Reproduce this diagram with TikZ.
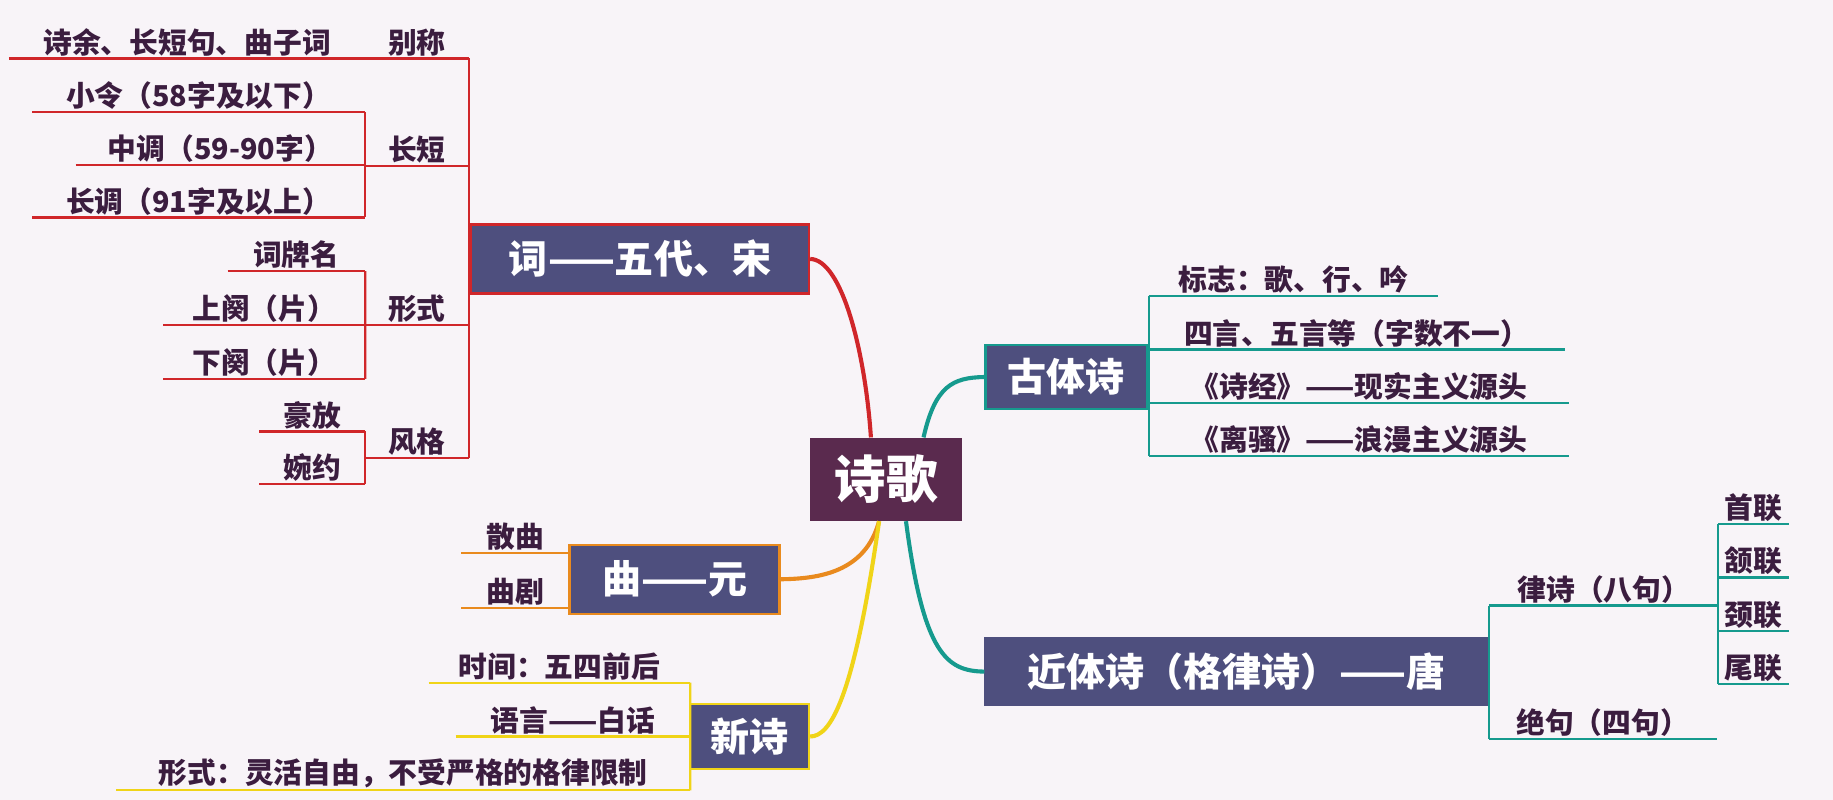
\documentclass[tikz,border=0pt]{standalone}
\usepackage{fontspec}
\setmainfont{Noto Sans CJK SC}
\usetikzlibrary{calc}
\definecolor{bgcol}{HTML}{F8F4F8}
\definecolor{txtcol}{HTML}{3B1D3F}
\definecolor{boxcol}{HTML}{4E4F7E}
\definecolor{rootcol}{HTML}{5A2A4E}
\definecolor{redcol}{HTML}{D0262A}
\definecolor{orgcol}{HTML}{E98A1E}
\definecolor{yelcol}{HTML}{F0D418}
\definecolor{tealcol}{HTML}{169A8E}
\newcommand\leaf[6]{%
  \node[leafnode,minimum width={(#3-#2)*0.02cm}] (#1) at ({(#2+#3)/2},#4) {#5};
  \draw[#6] (#1.south west) -- (#1.south east);}
\begin{document}
\begin{tikzpicture}[x=0.02cm,y=-0.02cm]
    \tikzset{
      leafnode/.style={anchor=south,inner sep=1pt,text=txtcol,font=\fontsize{14}{16}\selectfont\bfseries,align=center},
      boxnode/.style={rectangle,fill=boxcol,text=white,line width=1.2pt,inner sep=0pt,font=\fontsize{19}{22}\selectfont\bfseries},
      rootnode/.style={rectangle,fill=rootcol,text=white,inner sep=0pt,minimum width=2.6cm,minimum height=1.42cm,font=\fontsize{25}{28}\selectfont\bfseries},
      redline/.style={draw=redcol,line width=1.1pt},
      orgline/.style={draw=orgcol,line width=1.1pt},
      yelline/.style={draw=yelcol,line width=1.1pt},
      tealline/.style={draw=tealcol,line width=1.1pt},
      branch/.style={line width=2pt}
    }
    \fill[bgcol] (0,0) rectangle (1568,684);
    \useasboundingbox (0,0) rectangle (1568,684);
    % main boxes
    \node[rootnode] (shige) at (758,410) {诗歌};
    \node[boxnode,draw=redcol,minimum width=5.78cm,minimum height=1.18cm] (ci) at (547.5,221.5) {词——五代、宋};
    \node[boxnode,draw=tealcol,minimum width=2.76cm,minimum height=1.1cm] (guti) at (912,322.5) {古体诗};
    \node[boxnode,draw=boxcol,minimum width=8.6cm,minimum height=1.14cm] (jinti) at (1058,574.5) {近体诗（格律诗）——唐};
    \node[boxnode,draw=orgcol,minimum width=3.6cm,minimum height=1.18cm] (qu) at (577,495.5) {曲——元};
    \node[boxnode,draw=yelcol,minimum width=2.04cm,minimum height=1.12cm] (xinshi) at (641,630) {新诗};
    % branches from the root
    \draw[branch,redcol] ($(shige.north)+(-13,0)$) .. controls (740,300) and (720,222) .. (ci.east);
    \draw[branch,tealcol] ($(shige.north)+(32,0)$) .. controls (800,330) and (815,323) .. (guti.west);
    \draw[branch,tealcol] ($(shige.south)+(17,0)$) .. controls (790,560) and (810,574) .. (jinti.west);
    \draw[branch,orgcol] ($(shige.south)+(-6,0)$) .. controls (740,490) and (700,495) .. (qu.east);
    \draw[branch,yelcol] ($(shige.south)+(-6,0)$) .. controls (730,600) and (710,630) .. (xinshi.east);
    % 词
    \leaf{bieming}{8}{312}{50}{诗余、长短句、曲子词}{redline}
    \leaf{biecheng}{312}{401}{50}{别称}{redline}
    \leaf{changduan}{312}{401}{142}{长短}{redline}
    \leaf{xiaoling}{28}{312}{96}{小令（58字及以下）}{redline}
    \leaf{zhongdiao}{65}{312}{141}{中调（59-90字）}{redline}
    \leaf{changdiao}{28}{312}{186}{长调（91字及以上）}{redline}
    \leaf{xingshi}{312}{401}{278}{形式}{redline}
    \leaf{cipai}{195}{312}{232}{词牌名}{redline}
    \leaf{shangque}{140}{312}{278}{上阕（片）}{redline}
    \leaf{xiaque}{140}{312}{324}{下阕（片）}{redline}
    \leaf{fengge}{312}{401}{392}{风格}{redline}
    \leaf{haofang}{222}{312}{369}{豪放}{redline}
    \leaf{wanyue}{222}{312}{414}{婉约}{redline}
    \draw[redline] (biecheng.south east) -- (fengge.south east);
    \draw[redline] (xiaoling.south east) -- (changdiao.south east);
    \draw[redline] (cipai.south east) -- (xiaque.south east);
    \draw[redline] (haofang.south east) -- (wanyue.south east);
    % 曲
    \leaf{sanqu}{395}{487}{473}{散曲}{orgline}
    \leaf{quju}{395}{487}{520}{曲剧}{orgline}
    \draw[orgline] (sanqu.south east) -- (quju.south east);
    % 新诗
    \leaf{shijian}{367}{590}{584}{时间：五四前后}{yelline}
    \leaf{yuyan}{390}{590}{630}{语言——白话}{yelline}
    \leaf{xsxingshi}{100}{590}{676}{形式：灵活自由，不受严格的格律限制}{yelline}
    \draw[yelline] (shijian.south east) -- (xsxingshi.south east);
    % 古体诗
    \leaf{biaozhi}{983}{1230}{253}{标志：歌、行、吟}{tealline}
    \leaf{siyan}{983}{1338}{299}{四言、五言等（字数不一）}{tealline}
    \leaf{shijing}{983}{1342}{345}{《诗经》——现实主义源头}{tealline}
    \leaf{lisao}{983}{1342}{390}{《离骚》——浪漫主义源头}{tealline}
    \draw[tealline] (biaozhi.south west) -- (lisao.south west);
    % 近体诗
    \leaf{lvshi}{1274}{1470}{518}{律诗（八句）}{tealline}
    \leaf{jueju}{1274}{1468}{632}{绝句（四句）}{tealline}
    \draw[tealline] (lvshi.south west) -- (jueju.south west);
    \leaf{shoulian}{1470}{1530}{448}{首联}{tealline}
    \leaf{hanlian}{1470}{1530}{494}{颔联}{tealline}
    \leaf{jinglian}{1470}{1530}{540}{颈联}{tealline}
    \leaf{weilian}{1470}{1530}{585}{尾联}{tealline}
    \draw[tealline] (shoulian.south west) -- (weilian.south west);
\end{tikzpicture}
\end{document}
